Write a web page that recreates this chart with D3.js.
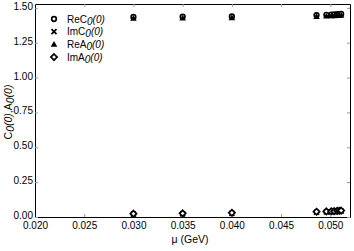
<!DOCTYPE html>
<html><head><meta charset="utf-8">
<script src="https://cdn.jsdelivr.net/npm/d3@7"></script>
<style>body{margin:0;background:#fff}svg{font-family:"Liberation Sans",Arial,sans-serif}</style>
</head><body><svg id="c" width="354" height="251"></svg>
<script>
const mu   = [0.030, 0.035, 0.040, 0.0486, 0.0496, 0.0501, 0.0504, 0.0507, 0.0509, 0.0511];
const reC  = [1.435, 1.436, 1.438, 1.448, 1.450, 1.452, 1.453, 1.454, 1.455, 1.456];
const imC  = [0.020, 0.022, 0.026, 0.034, 0.036, 0.037, 0.038, 0.040, 0.041, 0.042];
const reA  = [1.425, 1.426, 1.428, 1.438, 1.440, 1.442, 1.443, 1.444, 1.445, 1.446];
const imA  = [0.024, 0.026, 0.030, 0.038, 0.040, 0.041, 0.042, 0.044, 0.045, 0.046];
const xTicks = [0.020, 0.025, 0.030, 0.035, 0.040, 0.045, 0.050];
const yTicks = [0.00, 0.25, 0.50, 0.75, 1.00, 1.25, 1.50];
const seriesNames = ["ReC", "ImC", "ReA", "ImA"];

const svg = d3.select("#c");
const L = 35, R = 350, T = 4, B = 217;
const x = d3.scaleLinear().domain([0.020, 0.0520]).range([L, R]);
const y = d3.scaleLinear().domain([0, 1.5275]).range([B, T]);

const tickCol = "#999";
const gB = svg.append("g").attr("transform", `translate(0,${B})`)
  .call(d3.axisBottom(x).tickValues(xTicks).tickFormat(d3.format(".3f")).tickSizeInner(-3).tickSizeOuter(0).tickPadding(6));
const gT = svg.append("g").attr("transform", `translate(0,${T})`)
  .call(d3.axisTop(x).tickValues(xTicks).tickFormat("").tickSizeInner(-3).tickSizeOuter(0));
const gL = svg.append("g").attr("transform", `translate(${L},0)`)
  .call(d3.axisLeft(y).tickValues(yTicks).tickFormat(d3.format(".2f")).tickSizeInner(-3).tickSizeOuter(0).tickPadding(2));
const gR = svg.append("g").attr("transform", `translate(${R},0)`)
  .call(d3.axisRight(y).tickValues(yTicks).tickFormat("").tickSizeInner(-3).tickSizeOuter(0));
[gB,gT,gL,gR].forEach(g=>{
  g.select(".domain").attr("stroke","#000").attr("stroke-width",1);
  g.selectAll(".tick line").attr("stroke",tickCol);
  g.selectAll("text").attr("font-size",10).attr("fill","#000").attr("font-family","Liberation Sans, Arial, sans-serif");
});
gL.selectAll(".tick text").attr("dy","0.15em");
gB.selectAll(".tick text").attr("dy","0.6em");

// markers
function drawMarker(g, type, cx, cy){
  if(type==="ReC"){
    g.append("circle").attr("cx",cx).attr("cy",cy).attr("r",2.3).attr("fill","#fff").attr("stroke","#000").attr("stroke-width",1.7);
  } else if(type==="ImC"){
    g.append("path").attr("d",`M${cx-2.5},${cy-2.5}L${cx+2.5},${cy+2.5}M${cx-2.5},${cy+2.5}L${cx+2.5},${cy-2.5}`).attr("stroke","#000").attr("stroke-width",1.7);
  } else if(type==="ReA"){
    g.append("path").attr("d",`M${cx},${cy-3.3}L${cx+3.3},${cy+2.4}L${cx-3.3},${cy+2.4}Z`).attr("fill","#000");
  } else {
    g.append("path").attr("d",`M${cx},${cy-3.1}L${cx+3.1},${cy}L${cx},${cy+3.1}L${cx-3.1},${cy}Z`).attr("fill","#fff").attr("stroke","#000").attr("stroke-width",1.7);
  }
}
const data = {ReC: reC, ImC: imC, ReA: reA, ImA: imA};
const gp = svg.append("g");
seriesNames.forEach(s=>{
  data[s].forEach((v,i)=>drawMarker(gp, s, x(mu[i]), y(v)));
});

// legend
const legLabels = [["ReC","0","(0)"],["ImC","0","(0)"],["ReA","0","(0)"],["ImA","0","(0)"]];
const lg = svg.append("g");
legLabels.forEach((l,i)=>{
  const yy = 19 + i*12.7;
  drawMarker(lg, seriesNames[i], 54, yy);
  const t = lg.append("text").attr("x",67).attr("y",yy+3.5).attr("font-size",10);
  t.append("tspan").text(l[0]);
  t.append("tspan").attr("font-style","italic").attr("dy",2).text(l[1]);
  t.append("tspan").attr("font-style","italic").attr("dy",-2).text(l[2]);
});

// axis labels
svg.append("text").attr("x",190).attr("y",243).attr("text-anchor","middle").attr("font-size",10.5).text("μ (GeV)");
const yl = svg.append("text").attr("transform","translate(12,112) rotate(-90)").attr("text-anchor","middle").attr("font-size",10.5);
yl.append("tspan").text("C");
yl.append("tspan").attr("font-style","italic").attr("dy",2).text("0");
yl.append("tspan").attr("font-style","italic").attr("dy",-2).text("(0)");
yl.append("tspan").text(",A");
yl.append("tspan").attr("font-style","italic").attr("dy",2).text("0");
yl.append("tspan").attr("font-style","italic").attr("dy",-2).text("(0)");
</script></body></html>
